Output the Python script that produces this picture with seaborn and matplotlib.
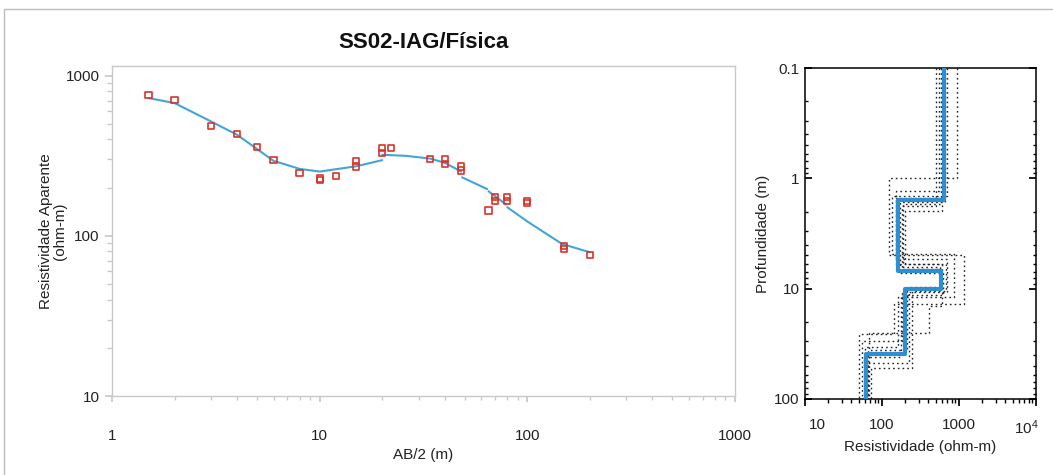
import numpy as np
import pandas as pd
import matplotlib
matplotlib.use("Agg")
import matplotlib.pyplot as plt
from matplotlib.lines import Line2D
import matplotlib.transforms as mtransforms
from matplotlib.ticker import LogLocator, NullFormatter, FixedLocator, FixedFormatter
import seaborn as sns

# ---------------- data ----------------
title = "SS02-IAG/Física"

# apparent resistivity field data
ab2_obs = [1.5, 2, 3, 4, 5, 6, 8, 10, 10, 12, 15, 15, 20, 20, 22, 34, 40, 40,
           48, 48, 65, 70, 70, 80, 80, 100, 100, 150, 150, 200]
rho_obs = [760, 702, 487, 434, 358, 296, 247, 228, 224, 237, 293, 271, 353, 330,
           353, 301, 301, 282, 271, 256, 144, 174, 166, 174, 166, 166, 160, 86, 83, 76]

# calculated curve (segments)
seg1_ab = [1.5, 2, 3, 4, 5, 6, 8, 10, 15, 20]
seg1_rho = [725, 675, 518, 428, 348, 294, 262, 252, 272, 297]
seg2_ab = [20, 26, 34, 40, 48]
seg2_rho = [321, 316, 304, 286, 252]
seg3_ab = [48.5, 64]
seg3_rho = [232, 196]
seg4_ab = [65, 79]
seg4_rho = [190, 157]
seg5_ab = [80, 100, 147, 200]
seg5_rho = [151, 123, 89, 79]
curve_segments = [(seg1_ab, seg1_rho), (seg2_ab, seg2_rho), (seg3_ab, seg3_rho),
                  (seg4_ab, seg4_rho), (seg5_ab, seg5_rho)]

# best layered model
best_rho = [630, 163, 590, 200, 62]
best_depth = [1.58, 6.9, 10.0, 39.5]

# equivalent models
eq_rho = [
    [550, 150, 700, 180, 55],
    [700, 135, 860, 160, 60],
    [500, 180, 580, 224, 65],
    [950, 123, 1150, 143, 50],
    [600, 200, 670, 247, 72],
    [600, 150, 600, 410, 68],
    [660, 170, 620, 175, 58],
    [580, 190, 560, 210, 66],
]
eq_depth = [
    [1.3, 5.4, 10.8, 30],
    [1.45, 4.9, 12.0, 34],
    [1.8, 6.6, 9.7, 47],
    [1.0, 5.0, 13.8, 26],
    [1.96, 6.0, 10.5, 52],
    [1.5, 6.0, 14.3, 25],
    [1.65, 7.2, 11.5, 42],
    [1.7, 6.3, 9.9, 36],
]

left_xticks = [1, 10, 100, 1000]
left_xticklabels = ["1", "10", "100", "1000"]
left_yticks = [10, 100, 1000]
left_yticklabels = ["10", "100", "1000"]
right_xticks = [10, 100, 1000, 10000]
right_xticklabels = ["10", "100", "1000", r"$10^4$"]
right_yticks = [0.1, 1, 10, 100]
right_yticklabels = ["0.1", "1", "10", "100"]

# ---------------- style ----------------
sns.set_theme(style="white")
plt.rcParams['font.family'] = ['Liberation Sans', 'DejaVu Sans']
plt.rcParams['mathtext.fontset'] = 'custom'
plt.rcParams['mathtext.rm'] = 'Liberation Sans'
plt.rcParams['mathtext.it'] = 'Liberation Sans'

FS = 11
RED = '#d9342b'
BLUE = '#43a5d6'
BLUE2 = '#2e8fd0'
GREY = '#c8c8c8'

fig = plt.figure(figsize=(10.53, 4.75), dpi=100)
W, H = 1053, 475

def frac(x0, y0, x1, y1):
    return [x0 / W, 1 - y1 / H, (x1 - x0) / W, (y1 - y0) / H]

ax1 = fig.add_axes(frac(112, 66, 735, 396))
ax2 = fig.add_axes(frac(805, 68, 1036, 399))

# frame lines around figure content
fig.add_artist(Line2D([4 / W, 1], [1 - 9 / H, 1 - 9 / H], color='#bdbdbd', lw=1))
fig.add_artist(Line2D([4 / W, 4 / W], [0, 1 - 9 / H], color='#bdbdbd', lw=1))

# ---------------- left panel ----------------
for sx, sy in curve_segments:
    sns.lineplot(x=sx, y=sy, ax=ax1, color=BLUE, lw=1.5, sort=False, estimator=None)
sns.scatterplot(x=ab2_obs, y=rho_obs, ax=ax1, marker='s', s=20,
                facecolor='none', edgecolor=RED, linewidth=1.2, zorder=3)
for c in ax1.collections:
    c.set_facecolor('none')

ax1.set_xscale('log')
ax1.set_yscale('log')
ax1.set_xlim(1, 1000)
ax1.set_ylim(10, 1150)
ax1.xaxis.set_major_locator(FixedLocator(left_xticks))
ax1.xaxis.set_major_formatter(FixedFormatter(left_xticklabels))
ax1.yaxis.set_major_locator(FixedLocator(left_yticks))
ax1.yaxis.set_major_formatter(FixedFormatter(left_yticklabels))
for a in (ax1.xaxis, ax1.yaxis):
    a.set_minor_locator(LogLocator(base=10, subs=np.arange(2, 10)))
    a.set_minor_formatter(NullFormatter())
for s in ax1.spines.values():
    s.set_color(GREY)
    s.set_linewidth(1)
ax1.tick_params(axis='both', which='both', direction='out', color=GREY,
                labelsize=FS, labelcolor='#222222')
ax1.tick_params(axis='x', which='major', length=4, pad=20, bottom=True)
ax1.tick_params(axis='x', which='minor', length=3, bottom=True)
ax1.tick_params(axis='y', which='major', length=5, pad=4, left=True)
ax1.tick_params(axis='y', which='minor', length=3.5, left=True)
ax1.set_xlabel("AB/2 (m)", fontsize=FS, color='#222222')
ax1.xaxis.set_label_coords(0.5, -0.158)
ax1.set_ylabel("Resistividade Aparente\n(ohm-m)", fontsize=FS, color='#222222',
               linespacing=1.0)
ax1.yaxis.set_label_coords(-0.072, 0.5)

fig.text(423.5 / W, 1 - 43 / H, title, ha='center', va='center',
         fontsize=16, fontweight='bold',
         family=['Liberation Sans Narrow', 'Liberation Sans', 'DejaVu Sans'],
         color='#111111')

# ---------------- right panel ----------------
def step_xy(rhos, depths, top=0.1, bottom=100):
    bounds = [top] + list(depths) + [bottom]
    xs, ys = [], []
    for i, r in enumerate(rhos):
        xs += [r, r]
        ys += [bounds[i], bounds[i + 1]]
    return xs, ys

for r, d in zip(eq_rho, eq_depth):
    xs, ys = step_xy(r, d)
    sns.lineplot(x=xs, y=ys, ax=ax2, color='#222222', lw=1.0, ls=(0, (1.2, 2.2)),
                 sort=False, estimator=None)
xs, ys = step_xy(best_rho, best_depth)
sns.lineplot(x=xs, y=ys, ax=ax2, color=BLUE2, lw=3.0, sort=False, estimator=None,
             zorder=4)

ax2.set_xscale('log')
ax2.set_yscale('log')
ax2.set_xlim(10, 10000)
ax2.set_ylim(100, 0.1)
ax2.xaxis.set_major_locator(FixedLocator(right_xticks))
ax2.xaxis.set_major_formatter(FixedFormatter(right_xticklabels))
ax2.yaxis.set_major_locator(FixedLocator(right_yticks))
ax2.yaxis.set_major_formatter(FixedFormatter(right_yticklabels))
for a in (ax2.xaxis, ax2.yaxis):
    a.set_minor_locator(LogLocator(base=10, subs=np.arange(2, 10)))
    a.set_minor_formatter(NullFormatter())
for s in ax2.spines.values():
    s.set_color('black')
    s.set_linewidth(1.1)
ax2.tick_params(axis='x', which='both', direction='out', color='black',
                labelsize=FS, bottom=True, labelcolor='#222222')
ax2.tick_params(axis='x', which='major', length=5, pad=9)
ax2.tick_params(axis='x', which='minor', length=3)
ax2.tick_params(axis='y', which='both', direction='in', color='black',
                labelsize=FS, left=True, right=True, labelcolor='#222222')
ax2.tick_params(axis='y', which='major', length=5, pad=4)
ax2.tick_params(axis='y', which='minor', length=2.5)
ax2.set_xlabel("Resistividade (ohm-m)", fontsize=FS, color='#222222')
ax2.xaxis.set_label_coords(0.5, -0.125)
ax2.set_ylabel("Profundidade (m)", fontsize=FS, color='#222222')
ax2.yaxis.set_label_coords(-0.15, 0.5)

# nudge the outermost x tick labels inward, as in the reference
xlabels = ax2.get_xticklabels()
xlabels[0].set_transform(xlabels[0].get_transform() +
                         mtransforms.ScaledTranslation(12 / 100, 0, fig.dpi_scale_trans))
xlabels[-1].set_transform(xlabels[-1].get_transform() +
                          mtransforms.ScaledTranslation(-10 / 100, 0, fig.dpi_scale_trans))

fig.savefig("out.png", dpi=100)
